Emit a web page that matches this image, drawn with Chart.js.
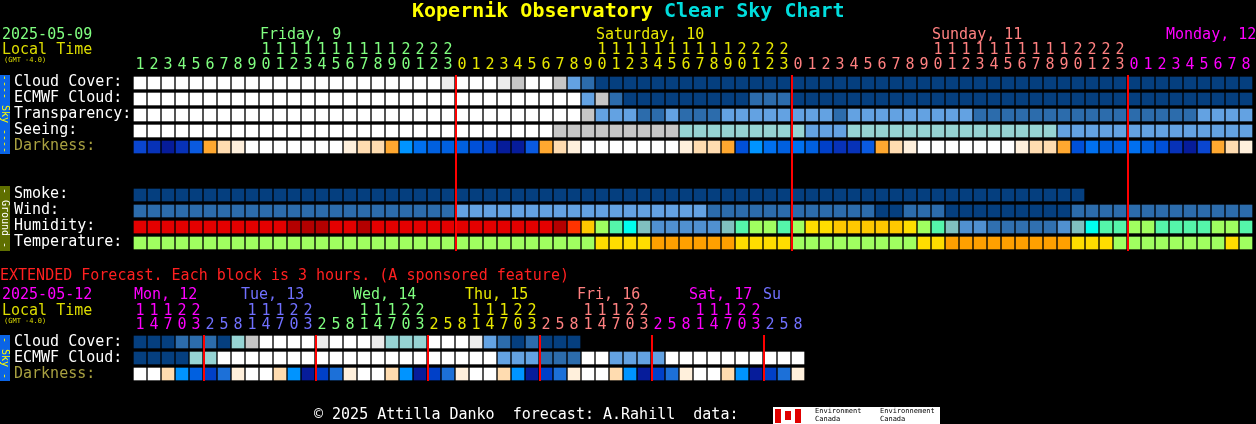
<!DOCTYPE html>
<html>
<head>
<meta charset="utf-8">
<script src="https://cdn.jsdelivr.net/npm/chart.js@4"></script>
<style>
  html, body { margin: 0; padding: 0; background: #000; }
  canvas { display: block; }
</style>
</head>
<body>
<canvas id="csc" width="1256" height="424"></canvas>
<script>
// hour of each 1-hour block (May 9 01h .. May 12 08h)
const mainHours = [1,2,3,4,5,6,7,8,9,10,11,12,13,14,15,16,17,18,19,20,21,22,23,
  0,1,2,3,4,5,6,7,8,9,10,11,12,13,14,15,16,17,18,19,20,21,22,23,
  0,1,2,3,4,5,6,7,8,9,10,11,12,13,14,15,16,17,18,19,20,21,22,23,
  0,1,2,3,4,5,6,7,8];
const mainDays = ['Friday, 9', 'Saturday, 10', 'Sunday, 11', 'Monday, 12'];
const mainDayColors = ['#80ff80', '#e8e800', '#ff8080', '#ff00ff'];

// one letter per block, see palette below
const cloudCover   = 'WWWWWWWWWWWWWWWWWWWWWWwWWWwgWWgLMDDDDDDDDDDDDDDDDDDDDDDDDDDDDDDDDDDDDDDDDDDDDDDD';
const ecmwfCloud   = 'WWWWWWWWWWWWWWWWWWWWWWWWWWWWWWWWLgMDDDDDDDDDMMMDDDDDDDDDDDDDDDDDDDDDDDDDDDDDDDDD';
const transparency = 'WWWWWWWWWWWWWWWWWWWWWWWWWWWWWWWWgLLLMMLMMMLLLLLLLLMLLLLLLLLLMMMMMMMMMMMMMMMMLLLL';
const seeing       = 'WWWWWWWWWWWWWWWWWWWWWWWWWWWWWWgggggggggSSSSSSSSSLLLSSSSSSSSSSSSSSSLLLLLLLLLLLLLL';
const darkness     = 'ABNBCPQqWWWWWWWqQQPEFHHHIJNNCPQqWWWWWWWqQQPIEFHFHJBBCPQqWWWWWWWqQQPIFHHFHIBNAPQq';
const smoke        = 'DDDDDDDDDDDDDDDDDDDDDDDDDDDDDDDDDDDDDDDDDDDDDDDDDDDDDDDDDDDDDDDDDDDD............';
const wind         = 'MMMMMMMMMMMMMMMMMMMMMMMLLLLLLLLLLLLLLLLLLMMMMMMMMMMMMDDMMMDDDDDDDDDMMMMMMMMMMMMM';
const humidity     = 'RRRRRRRRRRRrrrRRrRRRRRRRRRRRRRroyGactllllltaGGaGYYyyyyyYGatllmmmmmltcaaGGaaaaGGa';
const temperature  = 'GGGGGGGGGGGGGGGGGGGGGGGGGGGGGGGGGYYYYOOOOOOYYYYGGGGGGGGGYYOOOOOOOOOYYYGGGGGGGGYG';

// extended forecast, 3-hour blocks
const extHours = [11,14,17,20,23, 2,5,8,11,14,17,20,23, 2,5,8,11,14,17,20,23, 2,5,8,11,14,17,20,23,
  2,5,8,11,14,17,20,23, 2,5,8,11,14,17,20,23, 2,5,8];
const extDays = ['Mon, 12', 'Tue, 13', 'Wed, 14', 'Thu, 15', 'Fri, 16', 'Sat, 17', 'Su'];
const extDayColors = ['#ff00ff', '#7070ff', '#80ff80', '#e8e800', '#ff8080', '#ff00ff', '#7070ff'];
const extCloud    = 'DDDMMMDSgWWWWwWWWwSSSWWWwLMDMDDD................';
const extEcmwf    = 'DDDDSSWWWWWWWWWWWWWWWWWWWWLLLMMMWWLLLLWWWWWWWWWW';
const extDarkness = 'WWQEHJTqWWQENJTqWWQENJTqWWQENJTqWWQENJTqWWQENJTq';

const palette = {
  W: '#ffffff', w: '#ececec', g: '#c6c6c6', L: '#63a2e2', M: '#2c6cac', D: '#053f7f', S: '#96d4d4',
  R: '#e40000', r: '#b40000', o: '#ff3300', y: '#ffc800', Y: '#ffdd00', O: '#ffa000', G: '#a0ff60',
  a: '#55f5aa', c: '#00ffee', t: '#80c0c0', l: '#5090d0', m: '#3070b0',
  A: '#0a46d0', B: '#0732b8', N: '#061c9a', C: '#0a5ae0', P: '#ffa830', Q: '#ffdcb0', q: '#fff0dc',
  E: '#0094ff', F: '#0070f0', H: '#0060e0', I: '#0050d8', J: '#0040c8', T: '#1c70d8'
};
const tempPalette = { G: '#a0ff60', Y: '#ffdd00', O: '#ffa000' };

function rowDataset(codes, top, pal) {
  const p = pal || palette;
  const data = [], colors = [];
  codes.split('').forEach((ch, i) => {
    if (ch === '.') return;
    data.push({ x: i, y: [top, top + 12] });
    colors.push(p[ch]);
  });
  return { data, backgroundColor: colors, barThickness: 12, grouped: false, borderWidth: 0 };
}

const datasets = [
  rowDataset(cloudCover, 77), rowDataset(ecmwfCloud, 93), rowDataset(transparency, 109),
  rowDataset(seeing, 125), rowDataset(darkness, 141),
  rowDataset(smoke, 189), rowDataset(wind, 205), rowDataset(humidity, 221),
  rowDataset(temperature, 237, tempPalette),
  rowDataset(extCloud, 336), rowDataset(extEcmwf, 352), rowDataset(extDarkness, 368)
];

const MONO = "'DejaVu Sans Mono', monospace";

function vertical(ctx, text, x, y, color) {
  ctx.save();
  ctx.translate(x, y);
  ctx.rotate(Math.PI / 2);
  ctx.fillStyle = color;
  ctx.textAlign = 'center';
  ctx.fillText(text, 0, 0);
  ctx.restore();
}

const textPlugin = {
  id: 'cscText',
  afterDraw(chart) {
    const ctx = chart.ctx;
    const xs = chart.scales.x;
    ctx.save();
    ctx.textBaseline = 'middle';

    // title
    ctx.font = 'bold 20px ' + MONO;
    ctx.textAlign = 'left';
    ctx.fillStyle = '#ffff00';
    ctx.fillText('Kopernik Observatory', 412, 12);
    ctx.fillStyle = '#00dddd';
    ctx.fillText('Clear Sky Chart', 664, 12);

    ctx.font = '15px ' + MONO;
    ctx.fillStyle = '#80ff80';
    ctx.fillText('2025-05-09', 2, 35);
    ctx.fillStyle = '#dddd00';
    ctx.fillText('Local Time', 2, 50);
    ctx.font = '7px ' + MONO;
    ctx.fillText('(GMT -4.0)', 4, 60);

    // hour labels of the 1-hour grid
    ctx.font = '15px ' + MONO;
    let day = 0;
    mainHours.forEach((h, i) => {
      if (h === 0 && i > 0) day++;
      const cx = xs.getPixelForValue(i);
      ctx.fillStyle = mainDayColors[day];
      ctx.textAlign = 'center';
      ctx.fillText(String(h % 10), cx, 65);
      if (h >= 10) ctx.fillText(String(Math.floor(h / 10)), cx, 50);
    });
    ctx.textAlign = 'left';
    const dayX = [260, 596, 932, 1166];
    mainDays.forEach((d, i) => { ctx.fillStyle = mainDayColors[i]; ctx.fillText(d, dayX[i], 35); });

    // row labels
    ctx.fillStyle = '#ffffff';
    ['Cloud Cover:', 'ECMWF Cloud:', 'Transparency:', 'Seeing:'].forEach((t, i) => ctx.fillText(t, 14, 82 + 16 * i));
    ctx.fillStyle = '#a8a040';
    ctx.fillText('Darkness:', 14, 146);
    ctx.fillStyle = '#ffffff';
    ['Smoke:', 'Wind:', 'Humidity:', 'Temperature:'].forEach((t, i) => ctx.fillText(t, 14, 194 + 16 * i));

    // side bars
    ctx.fillStyle = '#0a64e6';
    ctx.fillRect(0, 75, 10, 79);
    ctx.fillRect(0, 335, 10, 46);
    ctx.fillStyle = '#5f6f00';
    ctx.fillRect(0, 186, 10, 65);
    ctx.font = '10px ' + MONO;
    vertical(ctx, '---- Sky ----', 5, 114, '#ffff00');
    vertical(ctx, '- Ground -', 5, 218, '#ffffff');
    vertical(ctx, '- Sky -', 5, 358, '#ffff00');

    // midnight lines
    ctx.fillStyle = '#ff0000';
    mainHours.forEach((h, i) => {
      if (h === 0) ctx.fillRect(xs.getPixelForValue(i) - 7, 75, 2, 176);
    });
    extHours.forEach((h, i) => {
      if (i > 0 && h < extHours[i - 1]) ctx.fillRect(xs.getPixelForValue(i) - 7, 335, 2, 46);
    });

    // extended header
    ctx.font = '15px ' + MONO;
    ctx.textAlign = 'left';
    ctx.fillStyle = '#ff2020';
    ctx.fillText('EXTENDED Forecast. Each block is 3 hours. (A sponsored feature)', 0, 276);
    ctx.fillStyle = '#ff00ff';
    ctx.fillText('2025-05-12', 2, 295);
    ctx.fillStyle = '#dddd00';
    ctx.fillText('Local Time', 2, 311);
    ctx.font = '7px ' + MONO;
    ctx.fillText('(GMT -4.0)', 4, 321);
    ctx.font = '15px ' + MONO;
    const extDayX = [134, 241, 353, 465, 577, 689, 763];
    extDays.forEach((d, i) => { ctx.fillStyle = extDayColors[i]; ctx.fillText(d, extDayX[i], 295); });
    ctx.textAlign = 'center';
    let eday = 0;
    extHours.forEach((h, i) => {
      if (i > 0 && h < extHours[i - 1]) eday++;
      const cx = xs.getPixelForValue(i);
      ctx.fillStyle = extDayColors[eday];
      ctx.fillText(String(h % 10), cx, 325);
      if (h >= 10) ctx.fillText(String(Math.floor(h / 10)), cx, 311);
    });
    ctx.textAlign = 'left';
    ctx.fillStyle = '#ffffff';
    ctx.fillText('Cloud Cover:', 14, 342);
    ctx.fillText('ECMWF Cloud:', 14, 358);
    ctx.fillStyle = '#a8a040';
    ctx.fillText('Darkness:', 14, 374);

    // footer
    ctx.fillStyle = '#ffffff';
    ctx.fillText('\u00a9 2025 Attilla Danko  forecast: A.Rahill  data:', 314, 415);
    ctx.fillRect(773, 407, 167, 17);
    ctx.fillStyle = '#e00000';
    ctx.fillRect(775, 409, 6, 14);
    ctx.fillRect(795, 409, 6, 14);
    ctx.fillRect(785, 411, 6, 9);
    ctx.fillStyle = '#000000';
    ctx.font = '7px ' + MONO;
    ctx.fillText('Environment', 815, 411);
    ctx.fillText('Canada', 815, 419);
    ctx.fillText('Environnement', 880, 411);
    ctx.fillText('Canada', 880, 419);
    ctx.restore();
  }
};

new Chart(document.getElementById('csc'), {
  type: 'bar',
  data: { datasets },
  options: {
    responsive: false,
    animation: false,
    devicePixelRatio: 1,
    layout: { padding: 0 },
    plugins: { legend: { display: false }, tooltip: { enabled: false } },
    scales: {
      x: { type: 'linear', display: false, offset: false, min: -10, max: 1116 / 14 },
      y: { type: 'linear', display: false, offset: false, min: 0, max: 424, reverse: true }
    }
  },
  plugins: [textPlugin]
});
</script>
</body>
</html>
